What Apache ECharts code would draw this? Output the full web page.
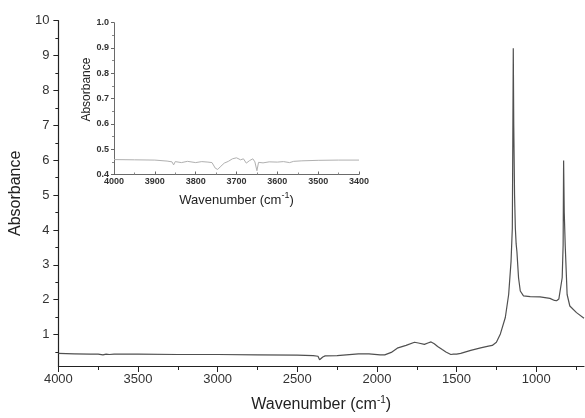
<!DOCTYPE html>
<html>
<head>
<meta charset="utf-8">
<script src="https://cdn.jsdelivr.net/npm/echarts@6/dist/echarts.min.js"></script>
<style>
  html, body { margin: 0; padding: 0; background: #fff; }
  #chart { width: 585px; height: 418px; }
</style>
</head>
<body>
<div id="chart"></div>
<script>
// main spectrum
const mainWavenumber = [4000, 3900, 3800, 3750, 3720, 3700, 3680, 3650, 3500, 3250, 3000, 2750, 2500, 2400, 2370, 2360, 2350, 2340, 2325, 2250, 2116, 2050, 1980, 1951, 1910, 1868, 1817, 1764, 1740, 1702, 1680, 1660, 1640, 1619, 1590, 1567, 1536, 1520, 1500, 1474, 1411, 1349, 1300, 1276, 1250, 1225, 1194, 1173, 1158, 1150, 1147, 1144, 1141, 1136, 1131, 1126, 1121, 1116, 1111, 1100, 1080, 1038, 976, 914, 885, 872, 858, 851, 837, 831, 828, 824, 818, 806, 789, 747, 700];
const mainAbsorbance = [0.46, 0.45, 0.44, 0.44, 0.42, 0.44, 0.43, 0.44, 0.44, 0.43, 0.43, 0.42, 0.41, 0.40, 0.38, 0.28, 0.33, 0.36, 0.39, 0.40, 0.45, 0.45, 0.42, 0.42, 0.49, 0.62, 0.69, 0.78, 0.76, 0.72, 0.76, 0.79, 0.74, 0.66, 0.57, 0.50, 0.43, 0.44, 0.44, 0.46, 0.55, 0.62, 0.67, 0.69, 0.78, 1.02, 1.49, 2.15, 3.1, 4.05, 6.5, 9.21, 7.0, 5.0, 4.05, 3.6, 3.37, 3.0, 2.63, 2.25, 2.11, 2.09, 2.08, 2.04, 1.98, 1.97, 2.02, 2.05, 2.63, 3.57, 5.99, 4.5, 3.57, 2.15, 1.82, 1.63, 1.47];

// inset: 4000-3400 zoom
const insetWavenumber = [4000, 3950, 3900, 3870, 3858, 3854, 3850, 3835, 3820, 3800, 3785, 3770, 3760, 3752, 3746, 3740, 3730, 3720, 3710, 3700, 3690, 3683, 3676, 3668, 3660, 3655, 3650, 3646, 3635, 3620, 3600, 3585, 3570, 3560, 3540, 3500, 3450, 3400];
const insetAbsorbance = [0.459, 0.458, 0.457, 0.453, 0.450, 0.438, 0.451, 0.447, 0.452, 0.447, 0.451, 0.449, 0.447, 0.425, 0.420, 0.430, 0.445, 0.452, 0.462, 0.466, 0.458, 0.462, 0.445, 0.455, 0.462, 0.450, 0.415, 0.448, 0.446, 0.450, 0.449, 0.451, 0.447, 0.452, 0.454, 0.456, 0.457, 0.457];

const mainXLabels = [4000, 3500, 3000, 2500, 2000, 1500, 1000];
const mainXMinor = [3750, 3250, 2750, 2250, 1750, 1250, 750];
const mainYLabels = [1, 2, 3, 4, 5, 6, 7, 8, 9, 10];
const mainYMinor = [0.5, 1.5, 2.5, 3.5, 4.5, 5.5, 6.5, 7.5, 8.5, 9.5];

const axisColor = '#222';
const textColor = '#333';
const font = 'Liberation Sans, Arial, sans-serif';
const plain = function (v) { return String(v); };

const chart = echarts.init(document.getElementById('chart'));

const titleRich = function (size, sup) {
  return {
    n: { fontSize: size, fontFamily: font, color: '#222', lineHeight: size + 4 },
    s: { fontSize: sup, fontFamily: font, color: '#222', verticalAlign: 'top', lineHeight: sup + 2 }
  };
};

// extra axis that only draws the short minor ticks of the main plot
const hiddenTicks = function (pos, min, max, inverse, values, len) {
  return {
    type: 'value', gridIndex: 0, position: pos, min: min, max: max, inverse: inverse,
    axisLine: { show: false, onZero: false },
    axisLabel: { show: false },
    splitLine: { show: false },
    axisTick: { show: true, customValues: values, length: len, lineStyle: { color: axisColor } }
  };
};

chart.setOption({
  animation: false,
  backgroundColor: '#fff',
  grid: [
    { left: 54, right: 1, top: 20.7, bottom: 48.7 },
    { left: 114, right: 226, top: 22.7, bottom: 243.5 }
  ],
  xAxis: [
    {
      type: 'value', gridIndex: 0, position: 'bottom', min: 700, max: 4000, inverse: true,
      name: '{n|Wavenumber (cm}{s|-1}{n|)}',
      nameLocation: 'middle', nameGap: 29,
      nameTextStyle: { rich: titleRich(16, 10) },
      axisLine: { onZero: false, lineStyle: { color: axisColor, width: 1.2 } },
      axisTick: { customValues: mainXLabels, length: 6, lineStyle: { color: axisColor } },
      axisLabel: { customValues: mainXLabels, formatter: plain, color: textColor, fontSize: 13, fontFamily: font, margin: 7 },
      splitLine: { show: false }
    },
    hiddenTicks('bottom', 700, 4000, true, mainXMinor, 4),
    {
      type: 'value', gridIndex: 1, position: 'bottom', min: 3400, max: 4000, interval: 100, inverse: true,
      name: '{n|Wavenumber (cm}{s|-1}{n|)}',
      nameLocation: 'middle', nameGap: 17,
      nameTextStyle: { rich: titleRich(13, 9) },
      axisLine: { onZero: false, lineStyle: { color: '#444', width: 0.8 } },
      axisTick: { inside: true, length: 3, lineStyle: { color: '#666' } },
      minorTick: { show: true, splitNumber: 2, length: 2, lineStyle: { color: '#888' } },
      axisLabel: { formatter: plain, color: textColor, fontSize: 9, fontWeight: 'bold', fontFamily: font, margin: 3 },
      splitLine: { show: false }
    }
  ],
  yAxis: [
    {
      type: 'value', gridIndex: 0, position: 'left', min: 0.1, max: 10,
      name: 'Absorbance',
      nameLocation: 'middle', nameGap: 26,
      nameTextStyle: { fontSize: 16, fontFamily: font, color: '#222' },
      axisLine: { show: true, onZero: false, lineStyle: { color: axisColor, width: 1.2 } },
      axisTick: { show: true, customValues: mainYLabels, length: 5, lineStyle: { color: axisColor } },
      axisLabel: { customValues: mainYLabels, color: textColor, fontSize: 13, fontFamily: font, margin: 9 },
      splitLine: { show: false }
    },
    hiddenTicks('left', 0.1, 10, false, mainYMinor, 3),
    {
      type: 'value', gridIndex: 1, position: 'left', min: 0.4, max: 1.0, interval: 0.1,
      name: 'Absorbance',
      nameLocation: 'middle', nameGap: 21,
      nameTextStyle: { fontSize: 12, fontFamily: font, color: '#222', padding: [0, 0, 0, 18] },
      axisLine: { show: true, onZero: false, lineStyle: { color: '#444', width: 0.8 } },
      axisTick: { show: true, length: 3, lineStyle: { color: '#666' } },
      minorTick: { show: true, splitNumber: 2, length: 2, lineStyle: { color: '#888' } },
      axisLabel: { color: textColor, fontSize: 9, fontWeight: 'bold', fontFamily: font, margin: 5,
        formatter: function (v) { return v.toFixed(1); } },
      splitLine: { show: false }
    }
  ],
  series: [
    {
      name: 'spectrum',
      type: 'line',
      xAxisIndex: 0, yAxisIndex: 0,
      showSymbol: false,
      data: mainWavenumber.map(function (w, i) { return [w, mainAbsorbance[i]]; }),
      lineStyle: { color: '#505050', width: 1.2 }
    },
    {
      name: 'inset',
      type: 'line',
      xAxisIndex: 2, yAxisIndex: 2,
      showSymbol: false,
      data: insetWavenumber.map(function (w, i) { return [w, insetAbsorbance[i]]; }),
      lineStyle: { color: '#b0b0b0', width: 1 }
    }
  ]
});
</script>
</body>
</html>
